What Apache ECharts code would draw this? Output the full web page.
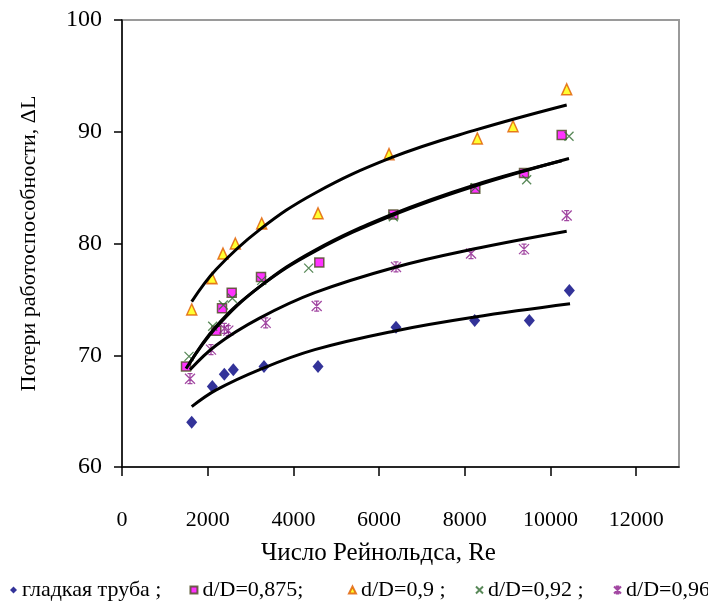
<!DOCTYPE html>
<html>
<head>
<meta charset="utf-8">
<script src="https://cdn.jsdelivr.net/npm/echarts@6/dist/echarts.min.js"></script>
<style>
  html, body { margin: 0; padding: 0; background: #fff; }
  #chart { width: 708px; height: 603px; }
</style>
</head>
<body>
<div id="chart"></div>
<script>
// Measured points: Reynolds number vs. loss of serviceability ΔL
const smoothRe = [1627, 2108, 2388, 2598, 3314, 4575, 6395, 8232, 9507, 10441];
const smoothDL = [64.0, 67.2, 68.3, 68.7, 69.0, 69.0, 72.5, 73.1, 73.1, 75.8];

const d875Re = [1494, 2202, 2334, 2560, 3244, 4605, 6333, 8246, 9383, 10262];
const d875DL = [69.0, 72.2, 74.2, 75.6, 77.0, 78.3, 82.6, 84.9, 86.3, 89.7];

const d90Re = [1627, 2100, 2357, 2645, 3260, 4575, 6232, 8293, 9126, 10379];
const d90DL = [74.1, 76.9, 79.1, 80.0, 81.8, 82.7, 88.0, 89.4, 90.5, 93.8];

const d92Re = [1564, 2117, 2365, 2575, 3260, 4357, 6333, 8246, 9445, 10433];
const d92DL = [69.9, 72.6, 74.5, 75.1, 76.7, 77.8, 82.4, 85.0, 85.7, 89.6];

const d96Re = [1587, 2077, 2388, 2481, 3354, 4544, 6395, 8146, 9383, 10379];
const d96DL = [67.9, 70.5, 72.4, 72.2, 72.9, 74.4, 77.9, 79.1, 79.5, 82.5];

// Logarithmic trend curves
const fitSmoothRe = [1627, 2200, 3200, 4500, 6400, 8200, 10457];
const fitSmoothDL = [65.4, 66.9, 68.7, 70.5, 72.2, 73.4, 74.6];
const fit875Re = [1494, 2200, 3200, 4500, 6300, 8200, 10262];
const fit875DL = [68.8, 72.5, 76.1, 79.4, 82.6, 85.2, 87.4];
const fit90Re = [1627, 2200, 3200, 4500, 6300, 8200, 10379];
const fit90DL = [74.8, 77.7, 81.2, 84.5, 87.7, 90.1, 92.4];
const fit92Re = [1564, 2200, 3200, 4500, 6300, 8200, 10433];
const fit92DL = [69.2, 72.6, 76.1, 79.3, 82.5, 85.1, 87.6];
const fit96Re = [1587, 2200, 3200, 4500, 6400, 8200, 10379];
const fit96DL = [68.7, 70.9, 73.3, 75.6, 77.9, 79.5, 81.1];

const seriesNames = ['гладкая труба', 'd/D=0,875', 'd/D=0,9', 'd/D=0,92', 'd/D=0,96'];
const legendSuffix = [' ;', ';   ', ' ;', ' ;', ' .'];

const xTickValues = [0, 2000, 4000, 6000, 8000, 10000, 12000];
const yTickValues = [60, 70, 80, 90, 100];

const FONT = '"Liberation Serif", "Times New Roman", serif';

function pairs(xs, ys) { return xs.map((x, i) => [x, ys[i]]); }

const crossPath = 'path://M0,0L10,10M10,0L0,10';
const starPath = 'path://M0,0L10,10M10,0L0,10M5,0L5,10M2.5,0L7.5,0M2.5,10L7.5,10';

const markers = [
  { data: pairs(smoothRe, smoothDL), symbol: 'diamond', size: [11, 13],
    style: { color: '#000080' } },
  { data: pairs(d875Re, d875DL), symbol: 'rect', size: 9,
    style: { color: '#ff00ff', borderColor: '#4a4a1e', borderWidth: 1.5 } },
  { data: pairs(d90Re, d90DL), symbol: 'triangle', size: [10, 11],
    style: { color: '#ffff00', borderColor: '#e05a00', borderWidth: 1.5 } },
  { data: pairs(d92Re, d92DL), symbol: crossPath, size: 9,
    style: { color: 'none', borderColor: '#2f6b2f', borderWidth: 1.3 } },
  { data: pairs(d96Re, d96DL), symbol: starPath, size: 10,
    style: { color: 'none', borderColor: '#8b1a8b', borderWidth: 1.3 } }
];

const fits = [
  pairs(fitSmoothRe, fitSmoothDL),
  pairs(fit875Re, fit875DL),
  pairs(fit90Re, fit90DL),
  pairs(fit92Re, fit92DL),
  pairs(fit96Re, fit96DL)
];

const series = [];
markers.forEach((m, i) => {
  series.push({
    name: seriesNames[i],
    type: 'scatter',
    data: m.data,
    symbol: m.symbol,
    symbolSize: m.size,
    itemStyle: m.style,
    z: 2,
    emphasis: { disabled: true }
  });
});
fits.forEach((f) => {
  series.push({
    type: 'line',
    data: f,
    smooth: 0.4,
    showSymbol: false,
    symbol: 'none',
    lineStyle: { color: '#000', width: 3 },
    z: 3,
    silent: true,
    emphasis: { disabled: true }
  });
});

const chart = echarts.init(document.getElementById('chart'), null, { renderer: 'canvas' });
chart.setOption({
  animation: false,
  backgroundColor: '#fff',
  textStyle: { fontFamily: FONT, color: '#000' },
  grid: {
    left: 122, top: 20, right: 29, bottom: 136,
    show: true, borderColor: '#9a9a9a', borderWidth: 2, backgroundColor: '#fff'
  },
  legend: {
    type: 'plain',
    orient: 'horizontal',
    data: seriesNames,
    left: 5, top: 574, width: 1200,
    itemWidth: 7, itemHeight: 7, itemGap: 28,
    formatter: (name) => name + legendSuffix[seriesNames.indexOf(name)],
    textStyle: { fontFamily: FONT, fontSize: 22, color: '#000' },
    selectedMode: false
  },
  xAxis: {
    type: 'value', min: 0, max: 13000, interval: 2000,
    name: 'Число Рейнольдса, Re',
    nameLocation: 'middle', nameGap: 74,
    nameTextStyle: { fontFamily: FONT, fontSize: 25, color: '#000',
      padding: [0, 44, 0, 0] },
    axisLine: { show: true, onZero: false, lineStyle: { color: '#000', width: 1.5 } },
    axisTick: { show: true, inside: false, length: 9, customValues: xTickValues,
      lineStyle: { color: '#000', width: 1.5 } },
    axisLabel: { customValues: xTickValues, margin: 42,
      formatter: (v) => String(v),
      fontFamily: FONT, fontSize: 22, color: '#000' },
    splitLine: { show: false }
  },
  yAxis: {
    type: 'value', min: 60, max: 100, interval: 10,
    name: 'Потери работоспособности, ΔL',
    nameLocation: 'middle', nameGap: 82, nameRotate: 90,
    nameTextStyle: { fontFamily: FONT, fontSize: 22, color: '#000' },
    axisLine: { show: true, onZero: false, lineStyle: { color: '#000', width: 1.5 } },
    axisTick: { show: true, inside: false, length: 8, customValues: yTickValues,
      lineStyle: { color: '#000', width: 1.5 } },
    axisLabel: { customValues: yTickValues, margin: 20,
      formatter: (v) => String(v),
      fontFamily: FONT, fontSize: 24, color: '#000' },
    splitLine: { show: false }
  },
  series: series
});
</script>
</body>
</html>
